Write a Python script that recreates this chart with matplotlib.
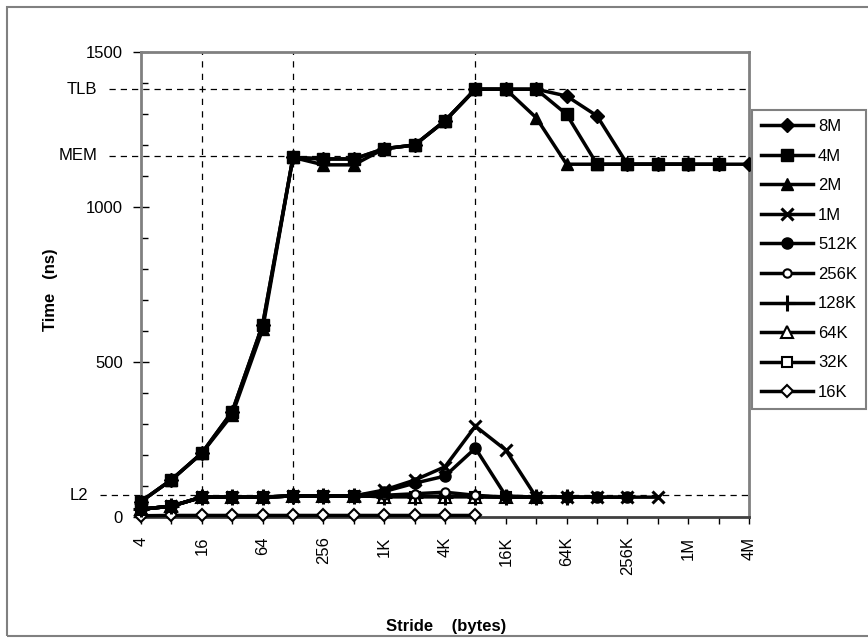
import numpy as np
import matplotlib.pyplot as plt
from matplotlib.ticker import MultipleLocator
from matplotlib.patches import Rectangle

plt.rcParams['font.family'] = ['Liberation Sans', 'DejaVu Sans']

# stride categories (bytes)
strides = ['4', '8', '16', '32', '64', '128', '256', '512', '1K', '2K', '4K',
           '8K', '16K', '32K', '64K', '128K', '256K', '512K', '1M', '2M', '4M']

# access time (ns) per array size
t_8m = [50, 120, 206, 340, 620, 1160, 1155, 1155, 1188, 1200, 1278,
        1380, 1380, 1380, 1358, 1294, 1138, 1138, 1138, 1138, 1138]
t_4m = [50, 120, 206, 340, 620, 1160, 1155, 1155, 1188, 1200, 1278,
        1380, 1380, 1380, 1299, 1138, 1138, 1138, 1138, 1138]
t_2m = [50, 120, 206, 330, 605, 1160, 1136, 1136, 1188, 1200, 1278,
        1380, 1380, 1288, 1138, 1138, 1138, 1138, 1138]
t_1m = [25, 35, 64, 64, 64, 68, 68, 68, 87, 119, 162, 293, 216, 64, 64, 64, 64, 64]
t_512k = [25, 35, 64, 64, 64, 68, 68, 68, 82, 109, 132, 222, 68, 64, 64, 64, 64]
t_256k = [25, 35, 64, 64, 64, 68, 68, 68, 70, 75, 80, 70, 64, 64, 64, 64]
t_128k = [25, 35, 64, 64, 64, 68, 68, 68, 66, 66, 66, 66, 64, 64, 64]
t_64k = [25, 35, 64, 64, 64, 68, 68, 68, 66, 66, 66, 66, 64, 64]
t_32k = [25, 35, 64, 64, 64, 68, 68, 68, 66, 66, 66, 66, 64]
t_16k = [4, 5, 5, 5, 5, 5, 5, 5, 5, 5, 5, 5]

series_names = ['8M', '4M', '2M', '1M', '512K', '256K', '128K', '64K', '32K', '16K']
series_values = [t_8m, t_4m, t_2m, t_1m, t_512k, t_256k, t_128k, t_64k, t_32k, t_16k]

# reference levels and marker strides
level_names = ['TLB', 'MEM', 'L2']
level_values = [1380, 1165, 70]
marker_strides = ['16', '128', '8K']

styles = [
    dict(marker='D', ms=7, mfc='black'),
    dict(marker='s', ms=8, mfc='black'),
    dict(marker='^', ms=8, mfc='black'),
    dict(marker='x', ms=9, mfc='black', mew=2.2),
    dict(marker='o', ms=8, mfc='black'),
    dict(marker='o', ms=6, mfc='white', mew=1.5),
    dict(marker='+', ms=11, mfc='black', mew=2.2),
    dict(marker='^', ms=8, mfc='white', mew=1.5),
    dict(marker='s', ms=7, mfc='white', mew=1.5),
    dict(marker='D', ms=6, mfc='white', mew=1.5),
]

fs = 12

fig = plt.figure(figsize=(8.68, 6.43), dpi=100)
ax = fig.add_axes([141 / 868, 1 - 517 / 643, 608 / 868, 465 / 643])

fig.add_artist(Rectangle((7 / 868, 7 / 643), 1.0, 629 / 643, transform=fig.transFigure,
                         fill=False, edgecolor='#808080', lw=1.5))

for s in marker_strides:
    ax.axvline(strides.index(s), color='black', lw=0.9, ls=(0, (5, 5)), zorder=1)

for name, v in zip(level_names, level_values):
    x0 = -0.067 if name == 'L2' else -0.053
    xt = -0.086 if name == 'L2' else -0.072
    ax.plot([x0, 1], [v, v], transform=ax.get_yaxis_transform(), clip_on=False,
            color='black', lw=0.9, ls=(0, (5, 4)), zorder=1)
    ax.text(xt, v, name, transform=ax.get_yaxis_transform(), ha='right',
            va='center', fontsize=fs)

# earlier series drawn on top
for k, (name, vals, st) in enumerate(zip(series_names, series_values, styles)):
    ax.plot(np.arange(len(vals)), vals, color='black', lw=2.5, mec='black',
            label=name, zorder=20 - k, clip_on=False, **st)

ax.set_xlim(0, len(strides) - 1)
ax.set_ylim(0, 1500)
ax.set_xticks(np.arange(len(strides)))
ax.set_xticklabels([s if i % 2 == 0 else '' for i, s in enumerate(strides)],
                   rotation=90, fontsize=fs)
ax.set_yticks([0, 500, 1000, 1500])
ax.yaxis.set_minor_locator(MultipleLocator(100))
ax.tick_params(axis='y', which='major', direction='inout', length=12, width=1,
               labelsize=fs, pad=7)
ax.tick_params(axis='y', which='minor', direction='in', length=5, width=1)
ax.tick_params(axis='x', direction='out', length=5, width=1, pad=9)

for sp in ax.spines.values():
    sp.set_color('#808080')
    sp.set_linewidth(2)
ax.spines['bottom'].set_color('#404040')

fig.text(51 / 868, 1 - 290 / 643, 'Time   (ns)', rotation=90, fontweight='bold',
         ha='center', va='center', fontsize=fs)
fig.text(446 / 868, 1 - 626 / 643, 'Stride    (bytes)', fontweight='bold',
         ha='center', va='center', fontsize=fs)

leg = fig.legend(loc='upper left', bbox_to_anchor=(752 / 868, 1 - 110 / 643),
                 borderaxespad=0, fontsize=fs, handlelength=3.1, handletextpad=0.3,
                 labelspacing=0.87, borderpad=0.56, fancybox=False, framealpha=1)
leg.get_frame().set_edgecolor('#808080')
leg.get_frame().set_linewidth(1.5)

fig.savefig('out.png', dpi=100)
